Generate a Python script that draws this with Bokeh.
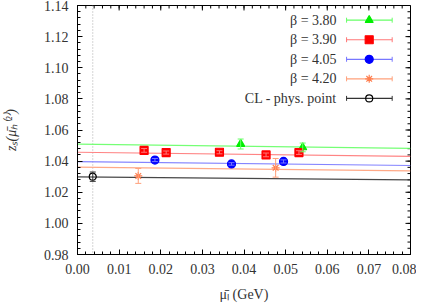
import numpy as np
from bokeh.plotting import figure
from bokeh.models import (Range1d, FixedTicker, Span, Whisker, TeeHead,
                          ColumnDataSource, PrintfTickFormatter)
from bokeh.embed import file_html
from bokeh.resources import INLINE
from bokeh.core.properties import value

# ---------------- data ----------------
b380_x = [0.0392, 0.0541]
b380_y = [1.0510, 1.0488]
b380_e = [0.0032, 0.0028]

b390_x = [0.0160, 0.0213, 0.0341, 0.0453, 0.0532]
b390_y = [1.0469, 1.0455, 1.0457, 1.0440, 1.0455]
b390_e = [0.0012, 0.0010, 0.0010, 0.0012, 0.0012]

b405_x = [0.0186, 0.0370, 0.0495]
b405_y = [1.0407, 1.0382, 1.0398]
b405_e = [0.0010, 0.0008, 0.0010]

b420_x = [0.0146, 0.0476]
b420_y = [1.0305, 1.0357]
b420_e = [0.0048, 0.0060]

cl_x = [0.00367]
cl_y = [1.0300]
cl_e = [0.0030]

fit_x = [0.0, 0.08]
fit_380 = [1.0509, 1.0482]
fit_390 = [1.0457, 1.0431]
fit_405 = [1.0397, 1.0372]
fit_420 = [1.0361, 1.0337]
fit_cl = [1.0299, 1.0280]

x_ticks = [0.00, 0.01, 0.02, 0.03, 0.04, 0.05, 0.06, 0.07, 0.08]
y_ticks = [0.98, 1.00, 1.02, 1.04, 1.06, 1.08, 1.10, 1.12, 1.14]

labels = ["\u03b2 = 3.80", "\u03b2 = 3.90", "\u03b2 = 4.05", "\u03b2 = 4.20", "CL - phys. point"]

# ---------------- styles ----------------
FONT = "Liberation Serif"
TXT = "#333333"
series = [
    dict(x=b380_x, y=b380_y, e=b380_e, fit=fit_380, color="#00ee00", line="#66ff66", marker="triangle", size=8, fill=True),
    dict(x=b390_x, y=b390_y, e=b390_e, fit=fit_390, color="#ff0000", line="#ff7777", marker="square", size=8, fill=True),
    dict(x=b405_x, y=b405_y, e=b405_e, fit=fit_405, color="#0000ff", line="#7777ff", marker="circle", size=8, fill=True),
    dict(x=b420_x, y=b420_y, e=b420_e, fit=fit_420, color="#ff7f50", line="#ffa07a", marker="asterisk", size=8, fill=False),
    dict(x=cl_x, y=cl_y, e=cl_e, fit=fit_cl, color="#000000", line="#333333", marker="circle", size=7, fill=False),
]

xr = Range1d(x_ticks[0], x_ticks[-1])
yr = Range1d(y_ticks[0], y_ticks[-1])

W, H = 416, 304
BL, BR, BT, BB = 76, 6, 5, 48
FW, FH = W - BL - BR, H - BT - BB   # frame size in px (for tick lengths)

p = figure(width=W, height=H, x_range=xr, y_range=yr,
           output_backend="svg", toolbar_location=None,
           min_border_left=BL, min_border_right=BR, min_border_top=BT, min_border_bottom=BB)
p.xgrid.visible = False
p.ygrid.visible = False
p.outline_line_color = "black"
p.outline_line_width = 1
p.background_fill_color = "white"
p.border_fill_color = "white"

xminor = [round(v, 4) for v in np.arange(0.0, 0.0801, 0.002)]
yminor = [round(v, 4) for v in np.arange(0.98, 1.1401, 0.004)]
xt = FixedTicker(ticks=x_ticks, minor_ticks=xminor)
yt = FixedTicker(ticks=y_ticks, minor_ticks=yminor)

for ax, ticker in ((p.xaxis[0], xt), (p.yaxis[0], yt)):
    ax.ticker = ticker
    ax.formatter = PrintfTickFormatter(format="%.2f")
    ax.major_tick_in = 5
    ax.major_tick_out = 0
    ax.minor_tick_in = 3
    ax.minor_tick_out = 0
    ax.axis_line_color = "black"
    ax.major_tick_line_color = "black"
    ax.minor_tick_line_color = "black"
    ax.major_label_text_font = FONT
    ax.major_label_text_font_size = "14px"
    ax.major_label_text_color = TXT
    ax.major_label_standoff = 9
    ax.axis_label_text_font = FONT
    ax.axis_label_text_font_size = "14px"
    ax.axis_label_text_color = TXT

p.xaxis[0].axis_label = "\u03bc\u0304\u2097 (GeV)"
p.xaxis[0].axis_label_text_font_style = "normal"
p.xaxis[0].axis_label_standoff = 10
p.yaxis[0].axis_label = "z\u209b(\u03bc\u0304\u2095\u207d\u00b2\u207e)"
p.yaxis[0].axis_label_text_font_style = "italic"
p.yaxis[0].axis_label_standoff = 22

# mirror ticks on top and right edges (derived from the tick lists)
dy_maj = 5 / FH * (yr.end - yr.start)
dy_min = 3 / FH * (yr.end - yr.start)
dx_maj = 5 / FW * (xr.end - xr.start)
dx_min = 3 / FW * (xr.end - xr.start)
p.segment(x_ticks, [yr.end] * len(x_ticks), x_ticks, [yr.end - dy_maj] * len(x_ticks),
          line_color="black", line_width=1)
p.segment(xminor, [yr.end] * len(xminor), xminor, [yr.end - dy_min] * len(xminor),
          line_color="black", line_width=1)
p.segment([xr.end] * len(y_ticks), y_ticks, [xr.end - dx_maj] * len(y_ticks), y_ticks,
          line_color="black", line_width=1)
p.segment([xr.end] * len(yminor), yminor, [xr.end - dx_min] * len(yminor), yminor,
          line_color="black", line_width=1)

# physical point marker line
p.add_layout(Span(location=cl_x[0], dimension="height", line_color="#aaaaaa",
                  line_dash="1 2", line_width=1, level="underlay"))

# fit lines
for s in series:
    p.line(fit_x, s["fit"], line_color=s["line"], line_width=1.2, line_alpha=0.9)

# error bars and markers
for s in series:
    y = np.array(s["y"]); e = np.array(s["e"])
    src = ColumnDataSource(dict(base=s["x"], lower=y - e, upper=y + e))
    p.add_layout(Whisker(source=src, base="base", lower="lower", upper="upper",
                         dimension="height", line_color=s["line"], line_width=1,
                         upper_head=TeeHead(size=6, line_color=s["line"], line_width=1),
                         lower_head=TeeHead(size=6, line_color=s["line"], line_width=1),
                         level="glyph"))
for s in series:
    p.scatter(s["x"], s["y"], marker=s["marker"], size=s["size"],
              line_color=s["color"], fill_color=s["color"] if s["fill"] else None,
              line_width=1.2)

# ---------------- manual legend (layout in fractions of the frame) ----------------
def fx(f):
    return xr.start + f * (xr.end - xr.start)

def fy(f):
    return yr.start + f * (yr.end - yr.start)

leg_text_x = fx(0.778)
leg_l, leg_m, leg_r = fx(0.808), fx(0.876), fx(0.945)
cap = 2.5 / FH * (yr.end - yr.start)
for i, (s, lab) in enumerate(zip(series, labels)):
    yy = fy(0.941 - i * 0.0785)
    p.text([leg_text_x], [yy], text=[lab], text_align="right", text_baseline="middle",
           text_font=value(FONT), text_font_size="14px", text_color=TXT)
    p.segment([leg_l], [yy], [leg_r], [yy], line_color=s["line"], line_width=1.2)
    p.segment([leg_l, leg_r], [yy - cap, yy - cap], [leg_l, leg_r], [yy + cap, yy + cap],
              line_color=s["line"], line_width=1)
    p.scatter([leg_m], [yy], marker=s["marker"], size=s["size"],
              line_color=s["color"], fill_color=s["color"] if s["fill"] else None,
              line_width=1.2)

open("out.html", "w").write(file_html(p, INLINE))
